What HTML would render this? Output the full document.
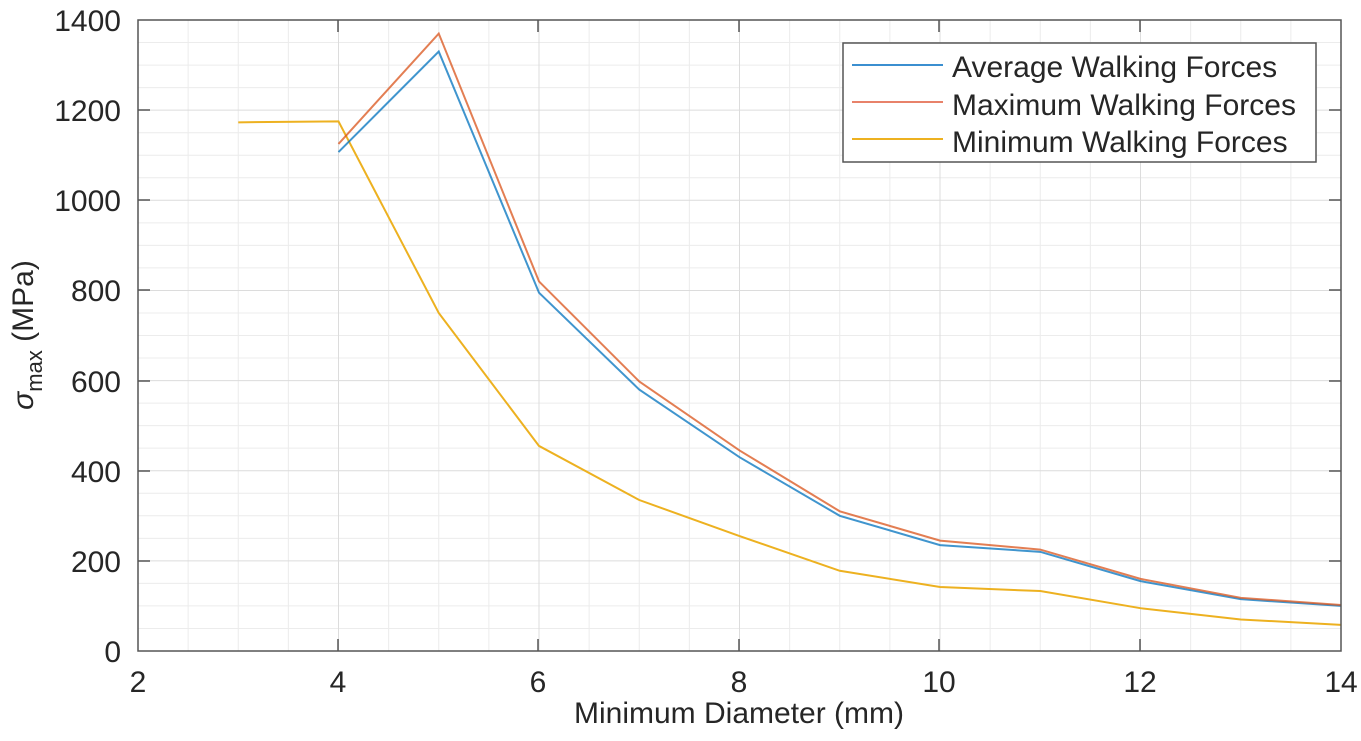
<!DOCTYPE html>
<html><head><style>body{margin:0;background:#fff}svg{display:block}text{font-family:"Liberation Sans",sans-serif;fill:#262626}</style></head>
<body>
<svg width="1361" height="741" xmlns="http://www.w3.org/2000/svg">
<g transform="translate(138,651) scale(100.25,-0.4507) translate(-2,0)" fill="none">
<g stroke="#ececec" stroke-width="1" vector-effect="non-scaling-stroke">
<path vector-effect="non-scaling-stroke" d="M2.5 0V1400M3 0V1400M3.5 0V1400M4.5 0V1400M5 0V1400M5.5 0V1400M6.5 0V1400M7 0V1400M7.5 0V1400M8.5 0V1400M9 0V1400M9.5 0V1400M10.5 0V1400M11 0V1400M11.5 0V1400M12.5 0V1400M13 0V1400M13.5 0V1400
M2 50H14M2 100H14M2 150H14M2 250H14M2 300H14M2 350H14M2 450H14M2 500H14M2 550H14M2 650H14M2 700H14M2 750H14M2 850H14M2 900H14M2 950H14M2 1050H14M2 1100H14M2 1150H14M2 1250H14M2 1300H14M2 1350H14"/>
</g>
<path stroke="#dcdcdc" vector-effect="non-scaling-stroke" d="M4 0V1400M6 0V1400M8 0V1400M10 0V1400M12 0V1400M2 200H14M2 400H14M2 600H14M2 800H14M2 1000H14M2 1200H14"/>
<path stroke="#EDB120" stroke-width="2" vector-effect="non-scaling-stroke" d="M3 1173L4 1175L5 750L6 455L7 335L8 255L9 178L10 142L11 133L12 95L13 70L14 58"/>
<path stroke="#0072BD" stroke-opacity="0.75" stroke-width="2" vector-effect="non-scaling-stroke" d="M4 1107L5 1330L6 795L7 580L8 430L9 300L10 235L11 220L12 155L13 115L14 100"/>
<path stroke="#D95319" stroke-opacity="0.75" stroke-width="2" vector-effect="non-scaling-stroke" d="M4 1125L5 1370L6 820L7 598L8 445L9 310L10 245L11 225L12 160L13 118L14 102"/>
</g>
<rect x="138" y="20" width="1203" height="631" fill="none" stroke="#555" stroke-width="1.5"/>
<g stroke="#555" stroke-width="1.5">
<path d="M338 651v-12M538 651v-12M739 651v-12M939 651v-12M1140 651v-12M338 20v12M538 20v12M739 20v12M939 20v12M1140 20v12"/>
<path d="M138 561h12M138 471h12M138 381h12M138 290h12M138 200h12M138 110h12M1341 561h-12M1341 471h-12M1341 381h-12M1341 290h-12M1341 200h-12M1341 110h-12"/>
</g>
<g font-size="30" text-anchor="middle">
<text x="138" y="692">2</text><text x="338" y="692">4</text><text x="538" y="692">6</text><text x="739" y="692">8</text><text x="939" y="692">10</text><text x="1140" y="692">12</text><text x="1341" y="692">14</text>
</g>
<g font-size="30" text-anchor="end">
<text x="121" y="662">0</text><text x="121" y="572">200</text><text x="121" y="482">400</text><text x="121" y="392">600</text><text x="121" y="301">800</text><text x="121" y="211">1000</text><text x="121" y="121">1200</text><text x="121" y="31">1400</text>
</g>
<text x="739" y="723" font-size="30" text-anchor="middle">Minimum Diameter (mm)</text>
<text transform="translate(33,335) rotate(-90)" font-size="30" text-anchor="middle"><tspan font-style="italic">σ</tspan><tspan font-size="22" dy="9">max</tspan><tspan dy="-9"> (MPa)</tspan></text>
<rect x="843" y="43" width="473" height="119" fill="#fff" stroke="#555" stroke-width="1.5"/>
<path d="M852 65H943" stroke="#3b8fd0" stroke-width="2"/>
<path d="M852 102H943" stroke="#e8826a" stroke-width="2"/>
<path d="M852 139H943" stroke="#EDB120" stroke-width="2"/>
<g font-size="30">
<text x="952" y="77">Average Walking Forces</text>
<text x="952" y="115">Maximum Walking Forces</text>
<text x="952" y="152">Minimum Walking Forces</text>
</g>
</svg>
</body></html>
